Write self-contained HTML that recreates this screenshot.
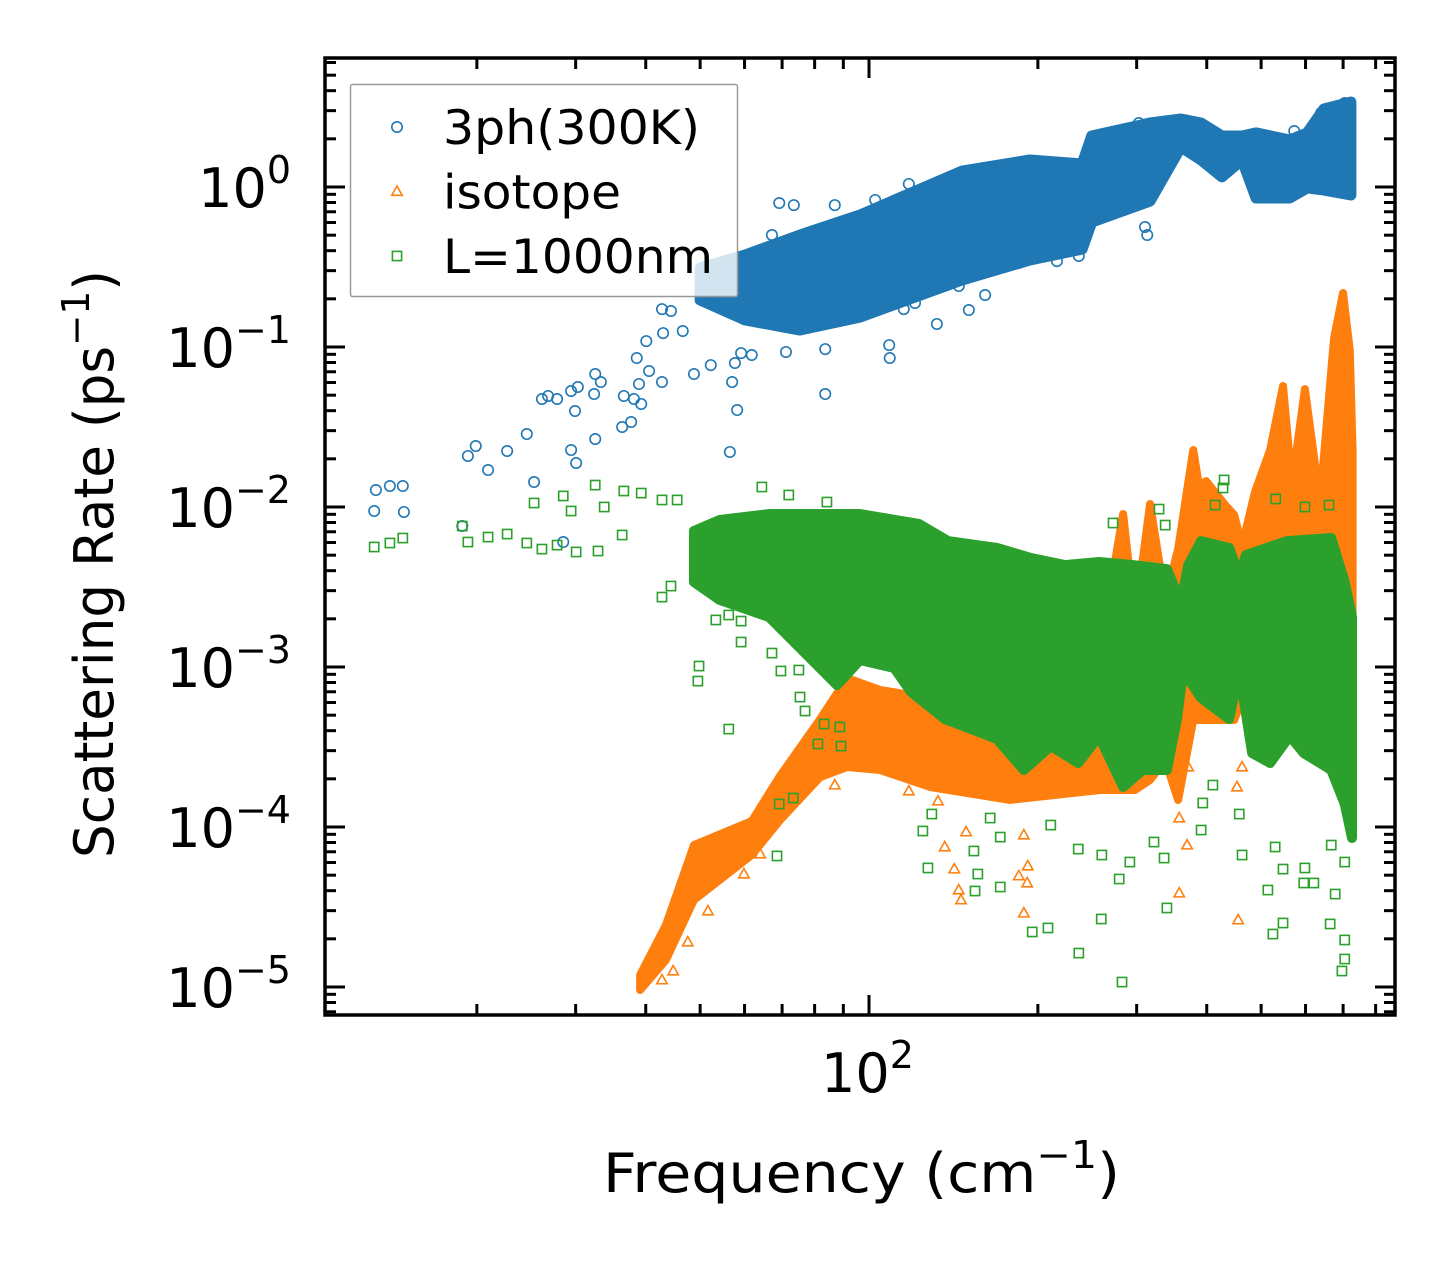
<!DOCTYPE html>
<html><head><meta charset="utf-8"><style>
html,body{margin:0;padding:0;background:#fff;}
svg{display:block;font-family:"DejaVu Sans","Liberation Sans",sans-serif;}
</style></head><body>
<svg id="chart" width="1455" height="1265" viewBox="0 0 1455 1265" xmlns="http://www.w3.org/2000/svg">
<rect width="1455" height="1265" fill="#fff"/>
<defs><clipPath id="plotclip"><rect x="325" y="58" width="1070" height="957"/></clipPath></defs>
<g id="plot" clip-path="url(#plotclip)"></g>
<g id="legend"></g>
<g id="axes"></g>
</svg>
<script>
// ---- data (log10 of frequency in cm^-1, log10 of rate in ps^-1) ----
const blueBandLogF = [1.699,1.779,1.877,1.984,2.166,2.287,2.380,2.397,2.501,2.556,2.592,2.629,2.665,2.690,2.750,2.781,2.811,2.859];
const blueBandTop  = [-0.506,-0.425,-0.3,-0.175,0.1,0.169,0.144,0.319,0.4,0.425,0.4,0.319,0.319,0.338,0.294,0.338,0.488,0.531];
const blueBandBot  = [-0.706,-0.831,-0.894,-0.813,-0.581,-0.456,-0.388,-0.219,-0.088,0.25,0.169,0.063,0.169,-0.069,-0.069,-0.006,-0.019,-0.05];
const blueLogF = [1.121,1.146,1.169,1.118,1.171,1.275,1.455,1.285,1.299,1.321,1.355,1.390,1.403,1.417,1.428,1.444,1.469,1.478,1.469,1.481,1.476,1.512,1.522,1.510,1.512,1.560,1.576,1.563,1.581,1.594,1.590,1.586,1.603,1.608,1.631,1.631,1.647,1.633,1.668,1.688,1.718,1.752,1.756,1.765,1.761,1.772,1.791,1.922,1.922,1.852,1.840,1.866,1.939,1.827,2.121,2.178,2.207,2.062,2.082,2.036,2.037,2.496,2.492,2.335,2.374,2.266,2.481,2.258,2.758,2.848,2.806,2.071,2.011,2.160];
const blueLogR = [-1.894,-1.869,-1.869,-2.025,-2.031,-2.119,-2.219,-1.681,-1.619,-1.769,-1.65,-1.544,-1.844,-1.325,-1.306,-1.325,-1.644,-1.725,-1.275,-1.25,-1.4,-1.169,-1.219,-1.294,-1.575,-1.5,-1.469,-1.306,-1.325,-1.356,-1.231,-1.069,-0.963,-1.15,-1.219,-0.763,-0.775,-0.913,-0.9,-1.169,-1.113,-1.656,-1.219,-1.394,-1.1,-1.038,-1.05,-1.294,-1.013,-1.031,-0.1,-0.113,-0.113,-0.3,-0.856,-0.769,-0.675,-0.763,-0.725,-0.988,-1.069,-0.3,-0.25,-0.463,-0.431,-0.475,0.4,0.106,0.35,0.525,0.463,0.019,-0.081,-0.619];

const orangeBandLogF = [1.592,1.638,1.688,1.791,1.840,1.913,1.961,2.020,2.109,2.251,2.412,2.439,2.453,2.474,2.501,2.528,2.551,2.578,2.588,2.601,2.635,2.651,2.665,2.688,2.715,2.738,2.754,2.777,2.804,2.829,2.845,2.857,2.862];
const orangeBandTop  = [-4.925,-4.613,-4.113,-3.963,-3.688,-3.325,-3.069,-3.144,-3.194,-3.206,-3.206,-2.331,-2.044,-2.706,-1.981,-2.581,-2.263,-1.644,-1.863,-1.838,-1.988,-2.05,-2.244,-1.906,-1.644,-1.244,-1.863,-1.263,-1.969,-0.944,-0.663,-1.019,-1.644];
const orangeBandBot  = [-5.019,-4.831,-4.456,-4.175,-3.963,-3.688,-3.625,-3.644,-3.75,-3.831,-3.769,-3.769,-3.769,-3.769,-3.706,-3.581,-3.831,-3.331,-3.331,-3.331,-3.331,-3.331,-3.206,-3.331,-3.331,-3.331,-3.331,-3.331,-3.331,-3.331,-3.331,-3.331,-3.331];
const orangeLogF = [2.071,2.093,2.123,2.135,2.152,2.160,2.164,2.173,2.276,2.267,2.282,2.283,2.276,2.553,2.567,2.553,2.569,2.658,2.656,2.665,1.651,1.631,1.677,1.713,1.777,1.806,1.939];
const orangeLogR = [-3.775,-3.706,-3.838,-4.125,-4.263,-4.394,-4.456,-4.031,-4.538,-4.306,-4.35,-4.244,-4.05,-4.413,-4.113,-3.944,-3.625,-4.581,-3.75,-3.625,-4.9,-4.956,-4.719,-4.525,-4.294,-4.169,-3.738];

const greenTopLogF = [1.688,1.734,1.822,1.943,1.984,2.089,2.141,2.228,2.289,2.349,2.410,2.471,2.531,2.556,2.569,2.592,2.642,2.660,2.672,2.745,2.824,2.848,2.861];
const greenTop     = [-2.15,-2.081,-2.044,-2.044,-2.044,-2.106,-2.213,-2.256,-2.319,-2.363,-2.344,-2.363,-2.388,-2.6,-2.363,-2.213,-2.256,-2.431,-2.3,-2.213,-2.194,-2.469,-2.688];
const greenBotLogF = [1.688,1.734,1.822,1.943,1.984,2.045,2.075,2.135,2.228,2.276,2.324,2.373,2.410,2.453,2.488,2.531,2.549,2.560,2.592,2.642,2.660,2.683,2.715,2.750,2.775,2.824,2.848,2.861];
const greenBot     = [-2.469,-2.581,-2.688,-3.113,-2.956,-3.006,-3.156,-3.325,-3.45,-3.644,-3.494,-3.6,-3.431,-3.75,-3.644,-3.644,-3.325,-3.025,-3.194,-3.325,-3.025,-3.538,-3.6,-3.431,-3.538,-3.644,-3.856,-4.069];
const greenLogF = [1.118,1.146,1.169,1.275,1.285,1.321,1.355,1.390,1.403,1.417,1.444,1.455,1.469,1.512,1.528,1.478,1.517,1.563,1.594,1.631,1.658,1.560,1.631,1.647,1.697,1.695,1.750,1.772,1.727,1.750,1.772,1.827,1.843,1.875,1.877,1.886,1.909,1.920,1.948,1.950,1.840,1.865,1.836,1.809,1.857,1.925,2.096,2.105,2.112,2.187,2.194,2.189,2.216,2.234,2.234,2.291,2.319,2.324,2.373,2.374,2.414,2.415,2.451,2.446,2.465,2.508,2.526,2.531,2.592,2.665,2.711,2.720,2.738,2.738,2.777,2.775,2.793,2.822,2.831,2.848,2.848,2.843,2.848,2.824,2.724,2.595,2.613,2.660,2.435,2.517,2.528,2.633,2.725,2.820,2.777,2.631,2.617];
const greenLogR = [-2.25,-2.225,-2.194,-2.119,-2.219,-2.188,-2.169,-2.225,-1.975,-2.263,-2.238,-1.931,-2.025,-1.863,-2.0,-2.281,-2.275,-1.9,-1.913,-1.956,-1.956,-2.175,-2.563,-2.494,-2.994,-3.088,-3.388,-2.844,-2.706,-2.675,-2.713,-2.913,-3.025,-3.019,-3.188,-3.275,-3.481,-3.356,-3.375,-3.494,-3.856,-3.819,-4.181,-1.875,-1.925,-1.969,-4.025,-4.256,-3.919,-4.15,-4.294,-4.4,-3.944,-4.063,-4.375,-4.656,-4.631,-3.988,-4.138,-4.788,-4.575,-4.175,-4.969,-4.325,-4.219,-4.094,-4.194,-4.506,-4.019,-4.175,-4.394,-4.669,-4.6,-4.263,-4.256,-4.35,-4.35,-4.606,-4.419,-4.706,-4.825,-4.9,-4.219,-4.113,-4.125,-3.85,-3.738,-3.919,-2.1,-2.013,-2.113,-1.831,-1.95,-1.988,-2.0,-1.881,-1.988];

const yTickExps = [0,-1,-2,-3,-4,-5];
const yTickLabels = ["0","\u22121","\u22122","\u22123","\u22124","\u22125"];
const xTickExps = [2];
const xTickLabels = ["2"];
const legendLabels = ["3ph(300K)","isotope","L=1000nm"];

// ---- axes ----
const NS = "http://www.w3.org/2000/svg";
const X = lf => 869 + 561 * (lf - 2);
const Y = lr => 187 - 160 * lr;
const BLUE = "#1f77b4", ORANGE = "#ff7f0e", GREEN = "#2ca02c";
const plot = document.getElementById('plot');
const legend = document.getElementById('legend');
const axes = document.getElementById('axes');
function mk(tag, attrs, parent) {
  const e = document.createElementNS(NS, tag);
  for (const k in attrs) e.setAttribute(k, attrs[k]);
  parent.appendChild(e);
  return e;
}
function bandPath2(tf, top, bf, bot) {
  let d = "M" + X(tf[0]) + "," + Y(top[0]);
  for (let i = 1; i < tf.length; i++) d += "L" + X(tf[i]) + "," + Y(top[i]);
  for (let i = bf.length - 1; i >= 0; i--) d += "L" + X(bf[i]) + "," + Y(bot[i]);
  return d + "Z";
}
function marker(type, cx, cy, color, parent) {
  let e;
  if (type === 'circle') e = mk('circle', {cx: cx, cy: cy, r: 5.2, fill: 'none', stroke: color, 'stroke-width': 1.6}, parent);
  else if (type === 'tri') e = mk('polygon', {points: (cx) + "," + (cy - 5.5) + " " + (cx - 5.2) + "," + (cy + 3.8) + " " + (cx + 5.2) + "," + (cy + 3.8), fill: 'none', stroke: color, 'stroke-width': 1.6}, parent);
  else e = mk('rect', {x: cx - 4.6, y: cy - 4.6, width: 9.2, height: 9.2, fill: 'none', stroke: color, 'stroke-width': 1.6}, parent);
  return e;
}

// blue series
const bb = mk('path', {d: bandPath2(blueBandLogF, blueBandTop, blueBandLogF, blueBandBot), fill: BLUE, stroke: BLUE, 'stroke-width': 11, 'stroke-linejoin': 'round'}, plot);


for (let i = 0; i < blueLogF.length; i++) {
  const m = marker('circle', X(blueLogF[i]), Y(blueLogR[i]), BLUE, plot);
  
  
}
// orange series
const ob = mk('path', {d: bandPath2(orangeBandLogF, orangeBandTop, orangeBandLogF, orangeBandBot), fill: ORANGE, stroke: ORANGE, 'stroke-width': 8, 'stroke-linejoin': 'round'}, plot);


for (let i = 0; i < orangeLogF.length; i++) {
  const m = marker('tri', X(orangeLogF[i]), Y(orangeLogR[i]), ORANGE, plot);
  
  
}
// green series
const gb = mk('path', {d: bandPath2(greenTopLogF, greenTop, greenBotLogF, greenBot), fill: GREEN, stroke: GREEN, 'stroke-width': 10, 'stroke-linejoin': 'round'}, plot);


for (let i = 0; i < greenLogF.length; i++) {
  const m = marker('sq', X(greenLogF[i]), Y(greenLogR[i]), GREEN, plot);
  
  
}

// legend
const lb = mk('rect', {x: 350.5, y: 84.5, width: 387, height: 212, fill: 'rgba(255,255,255,0.8)', stroke: '#999', 'stroke-width': 1.5, rx: 2}, legend);


const legTypes = ['circle', 'tri', 'sq'];
const legColors = [BLUE, ORANGE, GREEN];
const legWidths = [257, 178, 270];
for (let i = 0; i < 3; i++) {
  const cy = 127 + i * 64.5;
  const m = marker(legTypes[i], 397, cy, legColors[i], legend);
  
  
  const t = mk('text', {x: 443, y: cy + 17, 'font-size': 47, fill: '#000', textLength: legWidths[i], lengthAdjust: 'spacingAndGlyphs'}, legend);
  t.textContent = legendLabels[i];
  
  
}

// ticks
const L = 325, R = 1395, T = 58, B = 1015;
for (let e = -6; e <= 0; e++) {
  for (let k = 1; k <= 9; k++) {
    const y = Y(e + Math.log10(k));
    if (y < T || y > B) continue;
    const len = k === 1 ? 20 : 11;
    mk('line', {x1: L, x2: L + len, y1: y, y2: y, stroke: '#000', 'stroke-width': 3}, axes);
    mk('line', {x1: R, x2: R - len, y1: y, y2: y, stroke: '#000', 'stroke-width': 3}, axes);
  }
}
for (let e = 1; e <= 2; e++) {
  for (let k = 1; k <= 9; k++) {
    const x = X(e + Math.log10(k));
    if (x < L || x > R) continue;
    const len = k === 1 ? 20 : 11;
    mk('line', {x1: x, x2: x, y1: B, y2: B - len, stroke: '#000', 'stroke-width': 3}, axes);
    mk('line', {x1: x, x2: x, y1: T, y2: T + len, stroke: '#000', 'stroke-width': 3}, axes);
  }
}
const frame = mk('rect', {x: L, y: T, width: R - L, height: B - T, fill: 'none', stroke: '#000', 'stroke-width': 3.5}, axes);



for (let i = 0; i < yTickExps.length; i++) {
  const t = mk('text', {x: 291, y: Y(yTickExps[i]) + 20, 'text-anchor': 'end', 'font-size': 54, fill: '#000'}, axes);
  t.innerHTML = '10<tspan dy="-24" font-size="38">' + yTickLabels[i] + '</tspan>';
  
  
}
for (let i = 0; i < xTickExps.length; i++) {
  const t = mk('text', {x: X(xTickExps[i]) - 48, y: 1092, 'font-size': 54, fill: '#000'}, axes);
  t.innerHTML = '10<tspan dy="-24" font-size="38">' + xTickLabels[i] + '</tspan>';
  
  
}
const xt = mk('text', {x: 603, y: 1192, 'font-size': 54, fill: '#000', textLength: 517, lengthAdjust: 'spacingAndGlyphs'}, axes);
xt.innerHTML = 'Frequency (cm<tspan dy="-24" font-size="38">\u22121</tspan><tspan dy="24">)</tspan>';


const yt = mk('text', {x: 0, y: 0, 'font-size': 54, fill: '#000', transform: 'translate(113,858) rotate(-90)', textLength: 588, lengthAdjust: 'spacingAndGlyphs'}, axes);
yt.innerHTML = 'Scattering Rate (ps<tspan dy="-24" font-size="38">\u22121</tspan><tspan dy="24">)</tspan>';


</script>
</body></html>
